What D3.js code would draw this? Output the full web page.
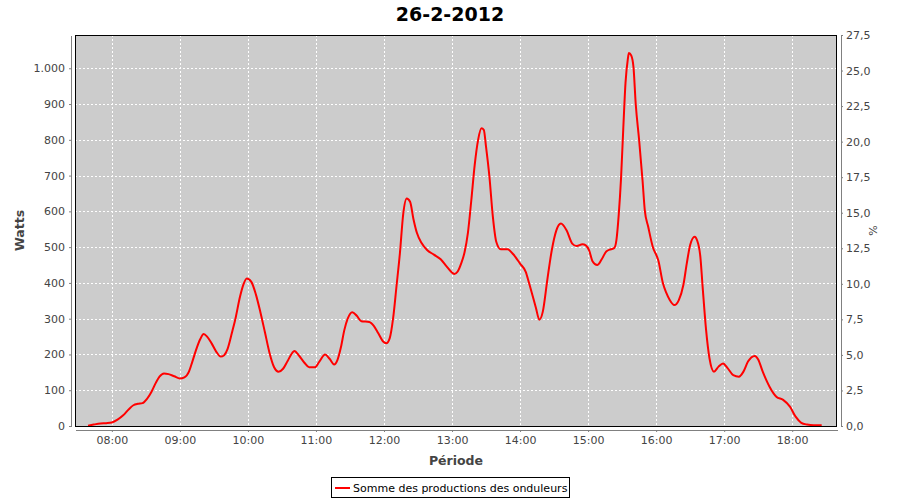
<!DOCTYPE html>
<html><head><meta charset="utf-8">
<script src="https://cdn.jsdelivr.net/npm/d3@7"></script>
<style>body{margin:0;background:#fff} svg{display:block}</style>
</head><body><svg id="c" width="900" height="500"></svg>
<script>
const titleText = "26-2-2012";
const seriesName = "Somme des productions des onduleurs";
const times = ["07:39","07:44","07:50","07:55","08:00","08:05","08:10","08:15","08:19","08:23","08:27","08:31","08:35","08:39","08:42","08:46","08:50","08:55","09:00","09:04","09:08","09:11","09:14","09:18","09:21","09:24","09:28","09:32","09:36","09:39","09:42","09:46","09:49","09:53","09:56","09:59","10:03","10:07","10:11","10:15","10:19","10:23","10:27","10:31","10:35","10:39","10:41","10:45","10:50","10:54","10:59","11:03","11:08","11:12","11:16","11:19","11:22","11:25","11:28","11:32","11:36","11:40","11:47","11:51","11:55","11:59","12:02","12:05","12:08","12:11","12:14","12:17","12:20","12:23","12:26","12:29","12:33","12:38","12:44","12:50","12:55","12:59","13:02","13:05","13:08","13:11","13:14","13:17","13:20","13:23","13:26","13:28","13:30","13:33","13:36","13:39","13:43","13:49","13:54","14:00","14:05","14:08","14:11","14:14","14:17","14:20","14:24","14:28","14:32","14:36","14:41","14:46","14:50","14:55","14:58","15:01","15:04","15:08","15:12","15:16","15:20","15:23","15:25","15:27","15:29","15:31","15:33","15:35","15:36","15:38","15:40","15:42","15:45","15:48","15:50","15:53","15:57","16:02","16:06","16:09","16:12","16:16","16:20","16:24","16:27","16:30","16:34","16:36","16:39","16:41","16:44","16:47","16:51","16:55","16:59","17:03","17:08","17:13","17:17","17:21","17:27","17:30","17:34","17:40","17:46","17:52","17:58","18:03","18:08","18:13","18:19","18:26"];
const watts = [1,4,7,8,10,18,30,47,58,62,64,76,96,122,138,147,145,139,133,136,152,180,210,243,257,250,231,208,194,198,215,262,300,361,395,412,403,368,318,262,205,165,152,160,182,204,210,197,176,164,164,180,200,188,172,185,220,268,300,318,308,293,291,280,259,237,231,245,300,390,482,594,636,627,578,540,512,492,479,466,447,432,425,432,454,485,540,631,730,800,832,828,780,696,585,515,494,494,480,454,431,399,365,330,297,319,408,492,547,566,547,510,503,508,505,490,460,450,466,488,494,497,520,590,690,830,960,1025,1043,1036,1004,900,799,687,603,557,501,462,399,372,352,338,352,394,454,506,529,520,473,389,270,190,152,166,175,162,142,138,152,180,196,186,152,110,82,73,54,26,9,4,2,2];
const leftTicks = [0,100,200,300,400,500,600,700,800,900,1000];
const rightTicks = [0,2.5,5,7.5,10,12.5,15,17.5,20,22.5,25,27.5];
const hourTicks = ["08:00","09:00","10:00","11:00","12:00","13:00","14:00","15:00","16:00","17:00","18:00"];
const xStart = "07:27.5", xEnd = "18:39.5";

const toDate = s => { const [h,m] = s.split(":"); const mm = parseFloat(m); return new Date(2012,1,26,+h,Math.floor(mm),Math.round((mm%1)*60)); };

const svg = d3.select("#c");
const L = 75, R = 837, T = 35, B = 426;
const FONT = "'DejaVu Sans', sans-serif";

const x = d3.scaleTime().domain([toDate(xStart), toDate(xEnd)]).range([L, R]);
const y = d3.scaleLinear().domain([0, 1093]).range([B, T]);
const y2 = d3.scaleLinear().domain([0, 27.5]).range([B, T]);

// plot background
svg.append("rect").attr("x", L).attr("y", T).attr("width", R-L).attr("height", B-T).attr("fill", "#cccccc");

// gridlines
const g = svg.append("g").attr("stroke", "#fff").attr("stroke-width", 1).attr("stroke-dasharray", "2,2").attr("shape-rendering","crispEdges");
hourTicks.forEach(t => { const xx = Math.round(x(toDate(t))) + 0.5; g.append("line").attr("x1", xx).attr("x2", xx).attr("y1", T).attr("y2", B); });
leftTicks.forEach(v => { if (v === 0) return; const yy = Math.round(y(v)) + 0.5; g.append("line").attr("x1", L).attr("x2", R).attr("y1", yy).attr("y2", yy); });

// line
const line = d3.line().x((d,i) => x(toDate(times[i]))).y(d => y(d)).curve(d3.curveMonotoneX);
svg.append("path").datum(watts).attr("d", line).attr("fill", "none").attr("stroke", "#ff0000").attr("stroke-width", 2).attr("stroke-linejoin","round");

// plot outline
svg.append("rect").attr("x", L+0.5).attr("y", T+0.5).attr("width", R-L-1).attr("height", B-T).attr("fill", "none").attr("stroke", "#000").attr("stroke-width", 1);

// axes
const styleAxis = (sel) => {
  sel.select(".domain").attr("stroke", "#808080");
  sel.selectAll(".tick line").attr("stroke", "#808080");
  sel.selectAll(".tick text").attr("fill", "#444").attr("font-family", FONT).attr("font-size", 11);
};
const ax = svg.append("g").attr("transform", `translate(0,${B+4})`)
  .call(d3.axisBottom(x).tickValues(hourTicks.map(toDate)).tickFormat(d3.timeFormat("%H:%M")).tickSize(2).tickSizeOuter(0).tickPadding(4));
styleAxis(ax);
const ayl = svg.append("g").attr("transform", `translate(${L-4},0)`)
  .call(d3.axisLeft(y).tickValues(leftTicks).tickFormat(v => v >= 1000 ? d3.format(",")(v).replace(/,/g, ".") : String(v)).tickSize(2).tickSizeOuter(0).tickPadding(4));
styleAxis(ayl);
const ayr = svg.append("g").attr("transform", `translate(${R+4},0)`)
  .call(d3.axisRight(y2).tickValues(rightTicks).tickFormat(v => d3.format(".1f")(v).replace(".", ",")).tickSize(2).tickSizeOuter(0).tickPadding(3));
styleAxis(ayr);
svg.selectAll(".domain").attr("shape-rendering","crispEdges");

// title
svg.append("text").attr("x", 450).attr("y", 21).attr("text-anchor", "middle")
  .attr("font-family", FONT).attr("font-weight", "bold").attr("font-size", 19).attr("fill", "#000").text(titleText);

// axis labels
svg.append("text").attr("transform", `translate(24,${(T+B)/2}) rotate(-90)`).attr("text-anchor", "middle")
  .attr("font-family", FONT).attr("font-weight", "bold").attr("font-size", 12.5).attr("fill", "#444").text("Watts");
svg.append("text").attr("transform", `translate(877,${(T+B)/2}) rotate(-90)`).attr("text-anchor", "middle")
  .attr("font-family", FONT).attr("font-size", 11).attr("fill", "#444").text("%");
svg.append("text").attr("x", (L+R)/2).attr("y", 465).attr("text-anchor", "middle")
  .attr("font-family", FONT).attr("font-weight", "bold").attr("font-size", 12.5).attr("fill", "#444").text("Période");

// legend
const lg = svg.append("g");
lg.append("rect").attr("x", 331.5).attr("y", 477.5).attr("width", 238).attr("height", 20).attr("fill", "#fff").attr("stroke", "#000");
lg.append("line").attr("x1", 335).attr("x2", 350).attr("y1", 488).attr("y2", 488).attr("stroke", "#ff0000").attr("stroke-width", 2);
lg.append("text").attr("x", 353).attr("y", 492).attr("font-family", FONT).attr("font-size", 11).attr("fill", "#000").text(seriesName);
</script></body></html>
